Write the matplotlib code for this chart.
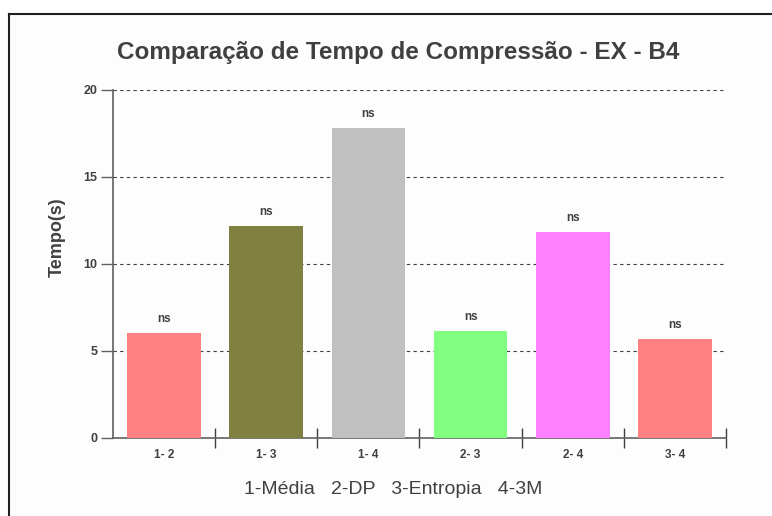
import matplotlib.pyplot as plt
from matplotlib.patches import Rectangle
from matplotlib.lines import Line2D
import numpy as np

# data
pairs  = ['1- 2', '1- 3', '1- 4', '2- 3', '2- 4', '3- 4']
tempos = [6.03, 12.18, 17.8, 6.15, 11.84, 5.69]
labels = ['ns', 'ns', 'ns', 'ns', 'ns', 'ns']
colors = ['#FF8080', '#808040', '#C0C0C0', '#80FF80', '#FF80FF', '#FF8080']
y_ticks = [0, 5, 10, 15, 20]

plt.rcParams['font.family'] = ['Liberation Sans', 'DejaVu Sans']
TXT = '#404040'

W, H = 772, 516
fig = plt.figure(figsize=(W / 100, H / 100), dpi=100)
fig.patch.set_facecolor('white')

# panel background + border (top and left lines)
fig.patches.append(Rectangle((9 / W, 0), 1 - 9 / W, 1 - 14 / H,
                             transform=fig.transFigure, facecolor='#FDFDFD',
                             edgecolor='none', zorder=-10))
fig.lines.append(Line2D([9 / W, 1], [1 - 14 / H, 1 - 14 / H],
                        transform=fig.transFigure, color='#202020', lw=1.5))
fig.lines.append(Line2D([9 / W, 9 / W], [0, 1 - 14 / H],
                        transform=fig.transFigure, color='#202020', lw=1.5))

ax = fig.add_axes([113 / W, 1 - 438 / H, (726 - 113) / W, (438 - 90) / H])
ax.set_facecolor('none')

x = np.arange(len(pairs))
ax.bar(x, tempos, width=0.72, color=colors, zorder=3)

for xi, v, lab in zip(x, tempos, labels):
    ax.text(xi, v + 0.45, lab, ha='center', va='bottom', fontsize=8.5,
            fontweight='bold', color=TXT)

ax.set_xlim(-0.5, len(pairs) - 0.5)
ax.set_ylim(0, 20)
ax.set_yticks(y_ticks)
ax.set_yticklabels([str(t) for t in y_ticks], fontsize=9, fontweight='bold', color=TXT)
ax.tick_params(axis='y', length=9, width=1, color='#606060', pad=2)

ax.set_xticks(x)
ax.set_xticklabels(pairs, fontsize=8.5, fontweight='bold', color=TXT)
ax.tick_params(axis='x', which='major', length=0, pad=8)
ax.set_xticks(np.arange(0.5, len(pairs), 1), minor=True)
ax.tick_params(axis='x', which='minor', direction='inout', length=14, width=1,
               color='#404040')

for t in y_ticks[1:]:
    ax.axhline(t, color='#404040', lw=0.8, ls=(0, (3, 3)), zorder=1)

for s in ['top', 'right']:
    ax.spines[s].set_visible(False)
for s in ['left', 'bottom']:
    ax.spines[s].set_color('#606060')
    ax.spines[s].set_linewidth(1.2)

fig.text(57 / W, 1 - 237 / H, 'Tempo(s)', rotation=90, ha='center', va='center',
         fontsize=13, fontweight='bold', color=TXT)

fig.text(398 / W, 1 - 52 / H, 'Comparação de Tempo de Compressão - EX - B4',
         ha='center', va='center', fontsize=17.5, fontweight='bold', color=TXT)
fig.text(393 / W, 1 - 490 / H, '1-Média   2-DP   3-Entropia   4-3M',
         ha='center', va='center', fontsize=14, color=TXT)

fig.savefig('out.png', dpi=100)
